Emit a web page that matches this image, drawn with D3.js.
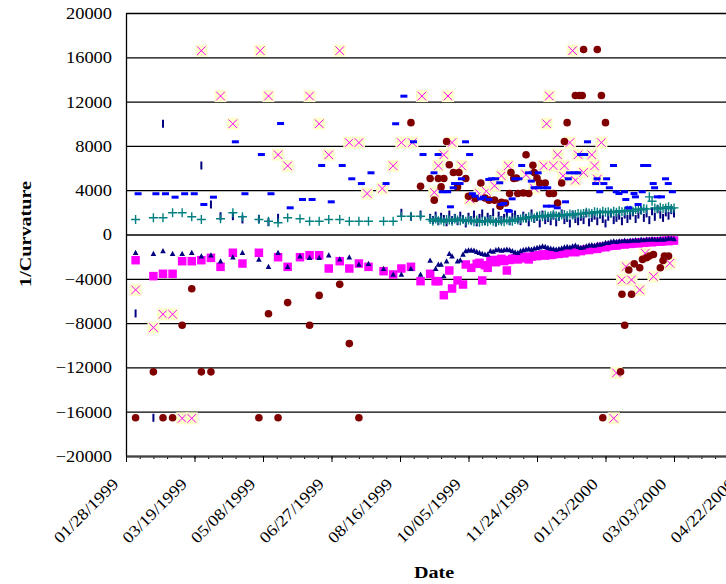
<!DOCTYPE html>
<html>
<head>
<meta charset="utf-8">
<script src="https://cdn.jsdelivr.net/npm/d3@7"></script>
<style>
  body { margin: 0; background: #fff; }
  svg { display: block; font-family: "Liberation Serif", "Times New Roman", serif; }
</style>
</head>
<body>
<svg id="chart" width="726" height="584"></svg>
<script>
// all dates are days after 01/28/1999
const START = new Date(1999, 0, 28)
const SPAN_DAYS = 500

const weekDays = [7, 20, 27, 34, 41, 48, 55, 62, 69, 78, 85, 97, 104, 111, 118, 127, 134, 141, 148, 156, 163, 170, 177, 188, 195, 201, 208, 215]
// second period is sampled every other day
const dayDays = d3.range(222, 401, 2)

const yTicks = [-20000, -16000, -12000, -8000, -4000, 0, 4000, 8000, 12000, 16000, 20000]
const xTickDays = [0, 50, 100, 150, 200, 250, 300, 350, 400, 450, 500]

// teal "+"
const plusWeekly = [1355, 1510, 1510, 1960, 1960, 1600, 1355, null, 1420, 1960, 1600, 1355, 1200, 1055, 1510, 1420, 1200, 1200, 1355, 1355, 1200, 1200, 1200, 1200, 1200, 1650, 1650, 1650]
const plusDaily = [
  1350, 1200, 1400, 1250, 1300, 1150, 1350, 1300, 1200, 1400, 1300, 1250, 1350, 1200, 1300,
  1250, 1150, 1300, 1100, 1200, 1250, 1150, 1300, 1200, 1100, 1250, 1200, 1150, 1300, 1250, 1200, 1350, 1300,
  1400, 1500, 1450, 1600, 1550, 1500, 1650, 1700, 1600, 1750, 1650, 1700, 1800, 1700, 1650, 1750, 1800, 1700, 1850, 1750, 1800, 1900,
  1850, 1900, 2000, 1950, 1900, 2050, 2000, 1950, 2100, 2000, 2050, 1950, 2100, 2000, 2150, 2050, 2100, 2200,
  2200, 2100, 2250, 2300, 2200, 2350, 2300, 3400, 3000, 2400, 2300, 2450, 2350, 2400, 2500, 2350, 2400
]

// navy "|"
const barWeekly = [-7130, -16550, 10000, null, null, null, 6230, 2710, 1650, 1650, 1360, 1420, 1110, 1510, null, null, null, null, null, null, null, null, null, null, null, 1960, 1600, 1800]
const barDaily = [
  1500, 1300, 1700, 1200, 1600, 1400, 1100, 1800, 1300, 1500, 1200, 1700, 1400, 1000, 1600,
  1300, 1800, 1100, 1500, 1900, 1200, 1600, 1400, 2000, 1100, 1700, 1300, 1500, 1900, 1200, 1600, 1800, 1400,
  1200, 1700, 1500, 1100, 1900, 1400, 1600, 1000, 1800, 1300, 1500, 1200, 1700, 1100, 1600, 1900, 1300, 1500, 1000, 1800, 1400, 1200,
  1600, 1300, 1900, 1100, 1500, 1700, 1200, 1800, 1400, 1000, 1600, 1900, 1300, 1500, 1700, 1200, 1800, 1400,
  1700, 2000, 1400, 1800, 2200, 1500, 1900, 1300, 2100, 1600, 2300, 1800, 1500, 2000, 1700, 2200, 1900
]

// navy triangles
const triWeekly = [-1650, -1740, -1500, -1740, -1740, -1650, -1960, -1870, -2410, -2050, -1650, -2260, -2920, -1650, -2920, -1960, -2110, -2110, -1870, -2230, -2050, -2710, -2650, -3100, -3610, -3610, -3100, -3610]
const triDaily = [
  -2350, null, -3100, -2710, -2710, -3760, -2410, -1740, -1960, null, -2410, -2320, -1800, -1500, -1420,
  -1420, -1450, -1560, -1650, -1740, -1800, -1800, -1500, -1550, -1400, -1355, -1450, -1400, -1355, -1400,
  -1500, -1600, -1650, -1500, -1400, -1355, -1300, -1350, -1265, -1200, -1150, -1055, -1100, -1200, -1265,
  -1300, -1355, -1300, -1250, -1145, -1100, -1145, -1055, -1000, -1100, -1200, -1150, -1050, -965, -950,
  -1000, -900, -900, -850, -750, -750, -650, -600, -650, -600, -600, -550, -600, -540, -540,
  -500, -550, -450, -500, -450, -450, -400, -450, -450, -400, -450, -400, -360, -350, -400
]

// magenta squares
const sqWeekly = [-2320, -3760, -3550, -3550, -2410, -2410, -2320, -2110, -2920, -1650, -2620, -1650, null, -2050, -2920, -2050, -1870, -1870, -3070, -2410, -3070, -2620, -2920, -3310, -3610, -3070, -2920, -4215]
const sqDaily = [
  -3550, null, -4215, -4215, null, -5480, null, -3250, -4876, null, -4150, null, -4515, -2710, null,
  -3010, null, -2650, -2560, -4150, -2770, -3010, -2400, -2300, -2500, -2350, -2200, -2400, -3250, -2300,
  -2200, -2150, -2250, -2100, -2000, -2150, -2250, -2000, -1900, -1950, -1850, -1800, -1900, -1750, -1850,
  -1800, -1700, -1750, -1650, -1700, -1600, -1550, -1500, -1600, -1450, -1500, -1400, -1350, -1400, -1300,
  -1250, -1300, -1150, -1100, -1150, -1050, -1000, -950, -1000, -900, -850, -900, -800, -850, -800,
  -750, -800, -700, -750, -700, -650, -700, -650, -600, -650, -600, -550, -600, -500, -550
]

// maroon circles: [day, value]
const circlePts = [
  [7, -16550], [20, -12400], [27, -16550], [34, -16550], [41, -8200], [48, -4900], [55, -12400], [62, -12400],
  [97, -16550], [104, -7150], [111, -16550], [118, -6150], [134, -8200], [141, -5500], [156, -4500], [163, -9850], [170, -16550],
  [208, 10100], [215, 4350],
  [222, 5050], [225, 3100], [228, 5050], [230, 4300], [232, 5050], [234, 8400], [236, 6300], [239, 5600], [242, 4300], [243, 5600],
  [248, 5050], [250, 3450], [255, 3250], [259, 4650], [262, 3300], [265, 3100], [269, 3100], [273, 2550], [274, 2900], [277, 2850],
  [280, 3700], [281, 5600], [283, 5050], [285, 5100], [286, 3700], [290, 3750], [292, 7200], [294, 3700], [297, 6250], [298, 5600],
  [300, 5100], [302, 4650], [306, 4650], [309, 3700], [312, 3700], [315, 2850], [318, 4650], [320, 8400], [322, 10100],
  [328, 12550], [331, 12550], [333, 12550], [334, 16700], [344, 16700], [347, 12550], [350, 10100],
  [348, -16550], [361, -12400], [364, -8200], [362, -5400], [369, -5400], [367, -3200], [371, -2650], [375, -3000],
  [377, -2250], [380, -2100], [382, -1950], [385, -1800], [390, -3000], [392, -2350], [393, -1950], [396, -1950]
]

// magenta "x" on yellow: [day, value]
const crossPts = [
  [7, -5000], [20, -8400], [27, -7200], [34, -7200], [41, -16600], [48, -16600], [55, 16600], [69, 12500], [78, 10000],
  [98, 16600], [104, 12500], [111, 7200], [118, 6200], [134, 12500], [141, 10000], [148, 7200], [156, 16600], [163, 8300],
  [170, 8300], [176, 3700], [187, 4150], [195, 6200], [201, 8300], [209, 8300], [216, 12500],
  [225, 3800], [228, 6200], [232, 7200], [235, 12500], [238, 8300], [245, 6200], [251, 3200], [258, 3700], [263, 3900],
  [269, 4400], [274, 5300], [279, 6200], [292, 5400], [298, 4200], [305, 6200], [307, 10000], [309, 12500], [312, 6200],
  [315, 7200], [319, 5300], [320, 6200], [324, 8300], [326, 16600], [328, 4900], [330, 7200], [334, 5600], [340, 7200],
  [342, 6200], [344, 5000], [347, 8300],
  [356, -16600], [358, -12500], [362, -4100], [365, -2900], [369, -4100], [375, -5000], [379, -1700], [385, -3800], [397, -2600]
]

// blue dashes: [day, value]
const dashPts = [
  [7, 3680], [20, 3680], [27, 3680], [34, 3370], [41, 3680], [48, 3680], [55, 2710], [62, 3370], [78, 8370], [85, 3680],
  [97, 7220], [104, 3680], [111, 10020], [118, 2410], [127, 3160], [134, 3160], [141, 6230], [148, 2950], [156, 6230],
  [163, 5030], [170, 4600], [177, 5570], [188, 4600], [195, 10000], [201, 12490], [208, 8370], [215, 7220],
  [223, 5570], [226, 7220], [229, 3860], [233, 3860], [235, 2500], [237, 4220], [238, 4600], [242, 4600], [243, 5030],
  [246, 8370], [249, 7220], [251, 3680], [253, 3460], [257, 3220], [259, 3370], [263, 4970], [263, 3160], [265, 5030],
  [268, 5030], [271, 4670], [272, 2710], [274, 2800], [277, 2170], [278, 2100], [280, 3220], [282, 5030], [285, 5030],
  [287, 6230], [292, 5570], [294, 4820], [296, 4220], [299, 4220], [299, 5570], [303, 4220], [305, 2560], [306, 4220],
  [309, 2560], [313, 2410], [319, 2950], [321, 5030], [322, 5570], [326, 5570], [328, 5570], [330, 7220], [333, 7220],
  [335, 8370], [341, 4600], [342, 5030], [344, 3860], [347, 4600], [349, 5030], [351, 4220], [354, 6230], [356, 3860],
  [358, 3700], [362, 3860], [363, 3160], [365, 2410], [369, 3700], [370, 3400], [372, 2710], [375, 3860], [376, 6230],
  [379, 6230], [383, 4600], [384, 4220], [386, 3400], [389, 3400], [392, 5030], [394, 4600], [397, 3860]
]

const toDate = d => d3.timeDay.offset(START, d)

const margin = {left: 126, top: 13}
const plotBottom = 456
const pxPerDay = 1.37

const x = d3.scaleTime()
  .domain([START, toDate(SPAN_DAYS)])
  .range([margin.left, margin.left + SPAN_DAYS * pxPerDay])
const y = d3.scaleLinear()
  .domain([-20000, 20000])
  .range([plotBottom, margin.top])

const svg = d3.select("#chart")

// merge the two sampled periods into one point list
function sampled(weekly, daily) {
  const pts = []
  weekly.forEach((v, i) => { if (v != null) pts.push([weekDays[i], v]) })
  daily.forEach((v, i) => { if (v != null && dayDays[i] != null) pts.push([dayDays[i], v]) })
  return pts
}

const px = p => x(toDate(p[0]))
const py = p => y(p[1])

// gridlines + y labels
const yAxis = svg.append("g")
  .attr("transform", `translate(${margin.left},0)`)
  .call(d3.axisLeft(y)
    .tickValues(yTicks)
    .tickFormat(d3.format("d"))
    .tickSizeInner(-700)
    .tickSizeOuter(0))
yAxis.select(".domain").attr("stroke", "#000").attr("stroke-width", 1.3)
yAxis.selectAll(".tick line").attr("stroke", "#000").attr("stroke-width", 1.3)
yAxis.selectAll(".tick text")
  .attr("x", null)
  .attr("dy", "0.34em")
  .attr("transform", "translate(-14,0) scale(1.15,1)")
  .attr("font-size", 16)
  .attr("font-family", "Liberation Serif, serif")
  .attr("fill", "#000")

// x axis: minor ticks every 10 days, labelled every 50
const minorAxis = svg.append("g")
  .attr("transform", `translate(0,${plotBottom})`)
  .call(d3.axisBottom(x).tickValues(d3.range(0, SPAN_DAYS + 1, 10).map(toDate)).tickSize(3).tickFormat(""))
minorAxis.select(".domain").remove()
minorAxis.selectAll(".tick line").attr("stroke", "#000")

const xAxis = svg.append("g")
  .attr("transform", `translate(0,${plotBottom})`)
  .call(d3.axisBottom(x)
    .tickValues(xTickDays.map(toDate))
    .tickFormat(d3.timeFormat("%m/%d/%Y"))
    .tickSizeInner(6)
    .tickSizeOuter(0))
xAxis.select(".domain").attr("stroke", "#444").attr("stroke-width", 2)
xAxis.selectAll(".tick line").attr("stroke", "#000")
xAxis.selectAll(".tick text")
  .attr("y", null)
  .attr("dy", null)
  .attr("text-anchor", "end")
  .attr("transform", "translate(-7,29) rotate(-45) scale(1.15,1)")
  .attr("font-size", 16)
  .attr("font-family", "Liberation Serif, serif")
  .attr("fill", "#000")

// titles
svg.append("text")
  .attr("transform", "translate(31,234) rotate(-90) scale(1.15,1)")
  .attr("text-anchor", "middle")
  .attr("font-size", 17.5)
  .attr("font-weight", "bold")
  .text("1/Curvature")

svg.append("text")
  .attr("transform", "translate(434,578) scale(1.15,1)")
  .attr("text-anchor", "middle")
  .attr("font-size", 17.5)
  .attr("font-weight", "bold")
  .text("Date")

// series
const marks = svg.append("g")

const crosses = marks.append("g").selectAll("g").data(crossPts).join("g")
  .attr("transform", p => `translate(${px(p)},${py(p)})`)
crosses.append("rect")
  .attr("x", -6).attr("y", -6).attr("width", 12).attr("height", 12)
  .attr("fill", "#FFFFCC")
crosses.append("path")
  .attr("d", "M-4.3,-4.3L4.3,4.3M-4.3,4.3L4.3,-4.3")
  .attr("stroke", "#FF00FF")
  .attr("stroke-width", 1)

marks.append("g").selectAll("circle").data(circlePts).join("circle")
  .attr("cx", px).attr("cy", py).attr("r", 3.8)
  .attr("fill", "#800000")

marks.append("g").selectAll("rect").data(sampled(sqWeekly, sqDaily)).join("rect")
  .attr("x", p => px(p) - 4.25).attr("y", p => py(p) - 4.25)
  .attr("width", 8.5).attr("height", 8.5)
  .attr("fill", "#FF00FF")

marks.append("g").selectAll("path").data(sampled(triWeekly, triDaily)).join("path")
  .attr("transform", p => `translate(${px(p)},${py(p)})`)
  .attr("d", "M0,-3L2.8,2.2L-2.8,2.2Z")
  .attr("fill", "#000080")

marks.append("g").selectAll("rect").data(sampled(barWeekly, barDaily)).join("rect")
  .attr("x", p => px(p) - 1).attr("y", p => py(p) - 4)
  .attr("width", 2).attr("height", 8)
  .attr("fill", "#000080")

marks.append("g").selectAll("path").data(sampled(plusWeekly, plusDaily)).join("path")
  .attr("transform", p => `translate(${px(p)},${py(p)})`)
  .attr("d", "M-4.5,0H4.5M0,-4.5V4.5")
  .attr("stroke", "#008080")
  .attr("stroke-width", 1.4)

// dash glyph sits a little right of its date, as in the original
marks.append("g").selectAll("rect").data(dashPts).join("rect")
  .attr("x", p => px(p) - 1).attr("y", p => py(p) - 1.5)
  .attr("width", 7).attr("height", 3)
  .attr("fill", "#0000FF")
</script>
</body>
</html>
